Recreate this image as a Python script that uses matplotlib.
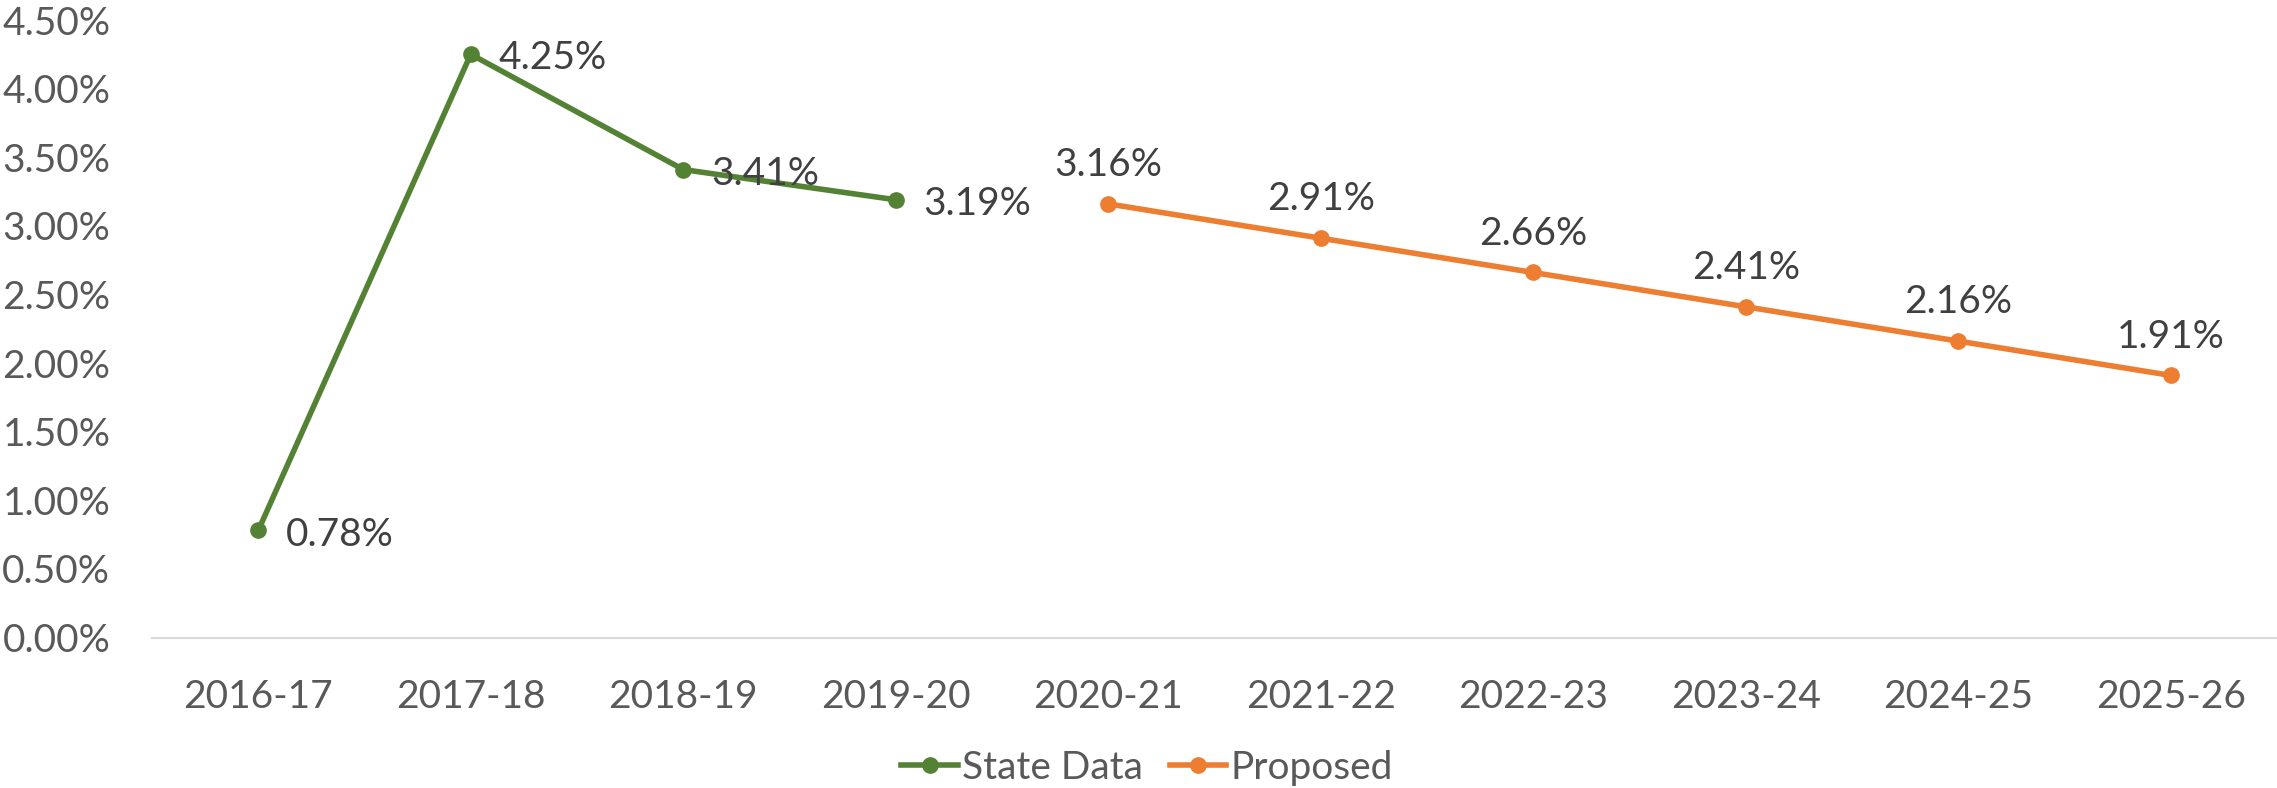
import matplotlib
matplotlib.use("Agg")
import matplotlib.pyplot as plt

categories = ["2016-17", "2017-18", "2018-19", "2019-20", "2020-21",
              "2021-22", "2022-23", "2023-24", "2024-25", "2025-26"]
state_vals = [0.78, 4.25, 3.41, 3.19]
proposed_vals = [3.16, 2.91, 2.66, 2.41, 2.16, 1.91]
yticks = [0, 0.5, 1.0, 1.5, 2.0, 2.5, 3.0, 3.5, 4.0, 4.5]

plt.rcParams['font.family'] = ['Lato', 'DejaVu Sans']

green = "#548235"
orange = "#ED7D31"
FS = 28

fig = plt.figure(figsize=(22.77, 7.88), dpi=100)
ax = fig.add_axes([152/2277, 1-637.5/788, 1-152/2277, (637.5-20)/788])

xs_state = list(range(len(state_vals)))
xs_prop = list(range(4, 4 + len(proposed_vals)))

ax.plot(xs_state, state_vals, color=green, lw=4, marker='o', ms=11, label="State Data")
ax.plot(xs_prop, proposed_vals, color=orange, lw=4, marker='o', ms=11, label="Proposed")

for x, v in zip(xs_state, state_vals):
    ax.annotate(f"{v:.2f}%", (x, v), xytext=(20, -3), textcoords='offset points',
                ha='left', va='center', fontsize=FS, color='#404040')
for x, v in zip(xs_prop, proposed_vals):
    ax.annotate(f"{v:.2f}%", (x, v), xytext=(0, 28), textcoords='offset points',
                ha='center', va='center', fontsize=FS, color='#404040')

ax.set_xlim(-0.5, len(categories) - 0.5)
ax.set_ylim(0, 4.5)
ax.set_xticks(range(len(categories)))
ax.set_xticklabels(categories)
ax.set_yticks(yticks)
ax.set_yticklabels([f"{t:.2f}%" for t in yticks])
ax.tick_params(axis='both', length=0, labelsize=FS, colors='#595959')
ax.tick_params(axis='x', pad=30)
ax.tick_params(axis='y', pad=30)
for s in ['top', 'right', 'left']:
    ax.spines[s].set_visible(False)
ax.spines['bottom'].set_color('#D9D9D9')
ax.spines['bottom'].set_linewidth(1.5)

leg = fig.legend(loc='center', bbox_to_anchor=(1147/2277, 1-768/788), ncol=2,
                 frameon=False, fontsize=FS, handlelength=1.45, handletextpad=0.1,
                 columnspacing=0.7)
for t in leg.get_texts():
    t.set_color('#595959')

fig.savefig("out.png", dpi=100)
